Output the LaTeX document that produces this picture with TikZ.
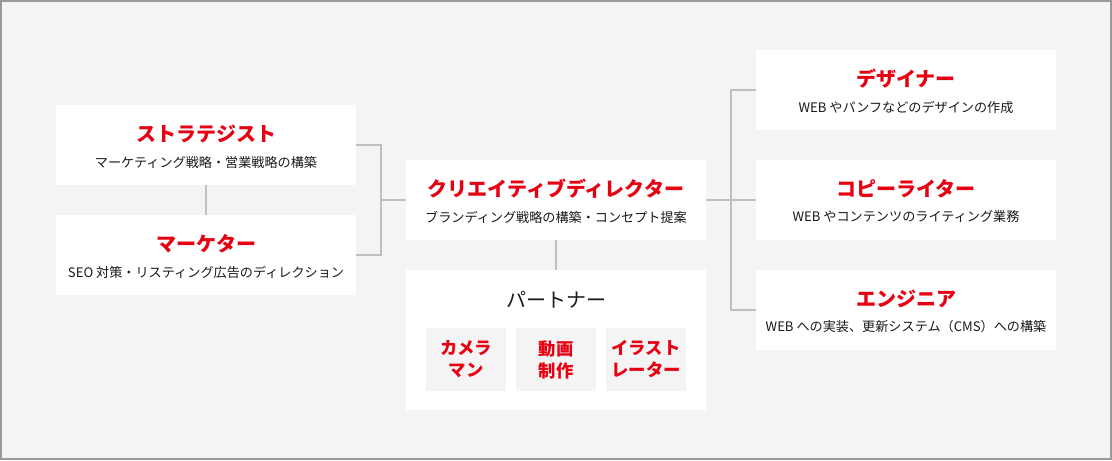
\documentclass[tikz,border=0pt]{standalone}
\usepackage{fontspec}
\setmainfont{Noto Sans CJK JP}
\usetikzlibrary{calc}
\usepackage{xcolor}
\definecolor{rolered}{HTML}{E60012}
\definecolor{bgray}{HTML}{F4F4F4}
\definecolor{lgray}{HTML}{C0C0C0}
\definecolor{fgray}{HTML}{999999}
\definecolor{textdark}{HTML}{1A1A1A}
\newcommand{\titlesize}{\fontsize{15pt}{18pt}\selectfont}
\newcommand{\subsize}{\fontsize{9.85pt}{12pt}\selectfont}

\begin{document}
\begin{tikzpicture}[x=0.75pt,y=-0.75pt,
		rolebox/.style={fill=white, minimum width=225pt, minimum height=60pt, inner sep=0pt},
		partbox/.style={fill=bgray, minimum width=60pt, minimum height=47.25pt, inner sep=0pt,
			align=center, text=rolered, font=\bfseries\fontsize{13pt}{16.5pt}\selectfont},
		roletitle/.style={inner sep=0pt, text=rolered, font=\bfseries\titlesize},
		roletext/.style={inner sep=0pt, text=textdark, font=\subsize},
		link/.style={draw=lgray, line width=1.5pt}]
		\useasboundingbox (0,0) rectangle (1112,460);
		\draw[fill=bgray, draw=fgray, line width=1.5pt] (1,1) rectangle (1111,459);
		% left side
		\node[rolebox] (strat) at (206,145) {};
		\node[roletitle] (strat-t) at ($(strat)+(0,-11)$) {ストラテジスト};
		\node[roletext] (strat-s) at ($(strat)+(0,17)$) {マーケティング戦略・営業戦略の構築};
		\node[rolebox] (mark) at (206,255) {};
		\node[roletitle] (mark-t) at ($(mark)+(0,-11)$) {マーケター};
		\node[roletext] (mark-s) at ($(mark)+(0,17)$) {SEO 対策・リスティング広告のディレクション};
		% center
		\node[rolebox] (dir) at (556,200) {};
		\node[roletitle] (dir-t) at ($(dir)+(0,-11)$) {クリエイティブディレクター};
		\node[roletext] (dir-s) at ($(dir)+(0,17)$) {ブランディング戦略の構築・コンセプト提案};
		\node[rolebox, minimum height=105pt] (part) at (556,340) {};
		\node[inner sep=0pt, text=textdark, font=\titlesize] (part-t) at (556,300) {パートナー};
		\node[partbox] (cam) at (466,359.5) {カメラ\\マン};
		\node[partbox] (movie) at (556,359.5) {動画\\制作};
		\node[partbox] (illust) at (646,359.5) {イラスト\\レーター};
		% right side
		\node[rolebox] (design) at (906,90) {};
		\node[roletitle] (design-t) at ($(design)+(0,-11)$) {デザイナー};
		\node[roletext] (design-s) at ($(design)+(0,17)$) {WEB やパンフなどのデザインの作成};
		\node[rolebox] (copy) at (906,200) {};
		\node[roletitle] (copy-t) at ($(copy)+(0,-11)$) {コピーライター};
		\node[roletext] (copy-s) at ($(copy)+(0,17)$) {WEB やコンテンツのライティング業務};
		\node[rolebox] (eng) at (906,310) {};
		\node[roletitle] (eng-t) at ($(eng)+(0,-11)$) {エンジニア};
		\node[roletext] (eng-s) at ($(eng)+(0,17)$) {WEB への実装、更新システム（CMS）への構築};
		% connectors
		\coordinate (lj) at (381,200);
		\coordinate (rj) at (731,200);
		\draw[link] (strat.south) -- (mark.north);
		\draw[link] (strat.east) -| (lj) |- (mark.east);
		\draw[link] (lj) -- (dir.west);
		\draw[link] (dir.south) -- (part.north);
		\draw[link] (dir.east) -- (rj);
		\draw[link] (design.west) -| (rj) |- (eng.west);
		\draw[link] (rj) -- (copy.west);
\end{tikzpicture}
\end{document}
